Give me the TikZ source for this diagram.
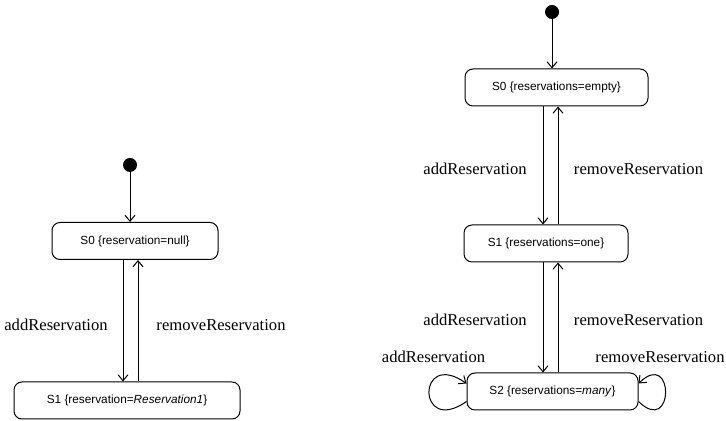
\documentclass[tikz,border=0pt]{standalone}
\usepackage{fontspec}
\setmainfont{Liberation Serif}
\newfontfamily\statefont{Liberation Sans}
\usepackage{tikz}
\usetikzlibrary{arrows.meta,positioning,calc}

\begin{document}
\begin{tikzpicture}[x=0.5pt,y=0.5pt,
  statebox/.style={draw,rounded corners=4pt,line width=0.5pt,inner sep=0pt,
              minimum height=18.5pt,font=\statefont\fontsize{5.9}{7}\selectfont},
  init/.style={circle,fill=black,inner sep=0pt,minimum size=7pt},
  arr/.style={-{Straight Barb[length=3pt,width=5pt]},line width=0.5pt},
  lbl/.style={font=\fontsize{8.3}{10}\selectfont,inner sep=0pt}
]
\useasboundingbox (0,0) rectangle (726,421);
% left: one reservation
\node[init] (i0) at (130,256) {};
\node[statebox,minimum width=83pt] (s0) at (135,180) {S0 \{reservation=null\}};
\node[statebox,minimum width=113pt] (s1) at (127,20.5) {S1 \{reservation=\textit{Reservation1}\}};
\draw[arr] (i0) -- (i0 |- s0.north);
\draw[arr] (s0.south -| 123,0) -- (s1.north -| 123,0);
\draw[arr] (s1.north -| 138,0) -- (s0.south -| 138,0);
\node[lbl] (a0) at (56,96) {addReservation};
\node[lbl] (r0) at (221,96) {removeReservation};
% right: many reservations
\node[init] (i1) at (552,409) {};
\node[statebox,minimum width=91.5pt] (t0) at (556.5,333.5) {S0 \{reservations=empty\}};
\node[statebox,minimum width=82pt] (t1) at (546,177.5) {S1 \{reservations=one\}};
\node[statebox,minimum width=85.5pt] (t2) at (552.5,29.5) {S2 \{reservations=\textit{many}\}};
\draw[arr] (i1) -- (i1 |- t0.north);
\draw[arr] (t0.south -| 543,0) -- (t1.north -| 543,0);
\draw[arr] (t1.north -| 558,0) -- (t0.south -| 558,0);
\draw[arr] (t1.south -| 543,0) -- (t2.north -| 543,0);
\draw[arr] (t2.north -| 558,0) -- (t1.south -| 558,0);
\node[lbl] (a1) at (475,252) {addReservation};
\node[lbl] (r1) at (638.5,252) {removeReservation};
\node[lbl] (a2) at (475,101) {addReservation};
\node[lbl] (r2) at (638.5,101) {removeReservation};
% self loops on S2
\draw[arr] ([yshift=-5pt]t2.west) .. controls +(-50,-35) and +(-50,35) .. ([yshift=4pt]t2.west);
\draw[arr] ([yshift=-5pt]t2.east) .. controls +(36,-35) and +(36,35) .. ([yshift=4pt]t2.east);
\node[lbl] (a3) at (433.5,64) {addReservation};
\node[lbl] (r3) at (660,64) {removeReservation};
\end{tikzpicture}
\end{document}
